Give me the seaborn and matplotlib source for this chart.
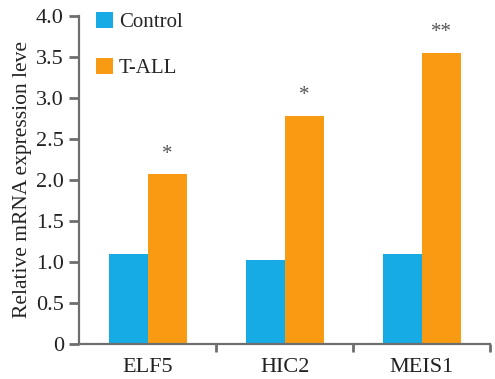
import matplotlib
matplotlib.use("Agg")
import matplotlib.pyplot as plt
import seaborn as sns
import pandas as pd
from matplotlib.patches import Patch

genes = ["ELF5", "HIC2", "MEIS1"]
groups = ["Control", "T-ALL"]
control_vals = [1.10, 1.02, 1.10]
tall_vals = [2.07, 2.78, 3.55]
signif = ["*", "*", "**"]
yticks = [0, 0.5, 1.0, 1.5, 2.0, 2.5, 3.0, 3.5, 4.0]
ytick_labels = ["0", "0.5", "1.0", "1.5", "2.0", "2.5", "3.0", "3.5", "4.0"]

colors = {"Control": "#17ABE6", "T-ALL": "#F89A12"}

df = pd.DataFrame({
    "gene": genes * 2,
    "group": ["Control"] * 3 + ["T-ALL"] * 3,
    "value": control_vals + tall_vals,
})

sns.set_style("white", {"xtick.bottom": True, "ytick.left": True})
plt.rcParams["font.family"] = ["Liberation Serif", "DejaVu Serif"]

fig = plt.figure(figsize=(4.95, 3.79), dpi=100)
ax = fig.add_axes([0.16, 0.0923, 0.83, 0.866])

sns.barplot(data=df, x="gene", y="value", hue="group", hue_order=groups,
            palette=colors, width=0.57, saturation=1, linewidth=0,
            ax=ax, legend=False)

ax.set_xlim(-0.5, 2.5)
ax.set_ylim(0, 4.0)
ax.set_yticks(yticks)
ax.set_yticklabels(ytick_labels, fontsize=16, color="#222222")
ax.set_xticks(range(len(genes)))
ax.set_xticklabels(genes, fontsize=16, color="#222222")
ax.set_xticks([0.5, 1.5, 2.5], minor=True)
ax.tick_params(axis="x", which="major", bottom=True, length=0, pad=10)
ax.tick_params(axis="x", which="minor", bottom=True, length=6, width=2,
               color="#6e6e6e", direction="out")
ax.tick_params(axis="y", which="major", left=True, length=7, width=2,
               color="#6e6e6e", direction="out", pad=4)
ax.set_xlabel("")
ax.set_ylabel("Relative mRNA expression leve", fontsize=15.5, color="#222222",
              labelpad=3)

for side in ["top", "right"]:
    ax.spines[side].set_visible(False)
for side in ["left", "bottom"]:
    ax.spines[side].set_color("#6e6e6e")
    ax.spines[side].set_linewidth(1.6)

# significance marks above the T-ALL bars
t_bars = ax.patches[len(genes):2 * len(genes)]
for bar, val, mark in zip(t_bars, tall_vals, signif):
    ax.text(bar.get_x() + bar.get_width() / 2, val + 0.13, mark,
            ha="center", va="bottom", fontsize=15, color="#555555")

handles = [Patch(facecolor=colors[g], edgecolor="none") for g in groups]
ax.legend(handles, groups, loc="upper left", bbox_to_anchor=(-0.005, 1.07),
          frameon=False, fontsize=15, handlelength=0.8, handleheight=0.8,
          handletextpad=0.3, labelspacing=1.25)

fig.savefig("out.png", dpi=100)
